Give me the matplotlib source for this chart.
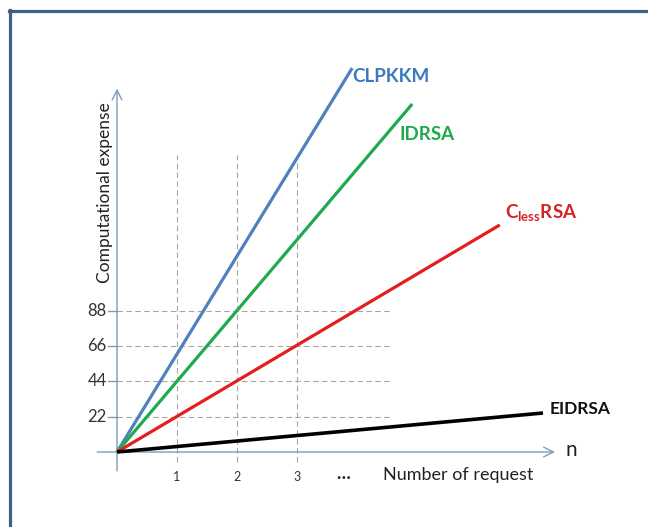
import matplotlib
matplotlib.use("Agg")
import matplotlib.pyplot as plt
from matplotlib.lines import Line2D

plt.rcParams['font.family'] = ['Lato', 'DejaVu Sans']

# ---- data ----
series_names = ["CLPKKM", "IDRSA", r"C$_{\mathregular{less}}$RSA", "EIDRSA"]
series_x = [[0, 3.92], [0, 4.92], [0, 6.38], [0, 7.10]]
series_y = [[0, 239.3], [0, 216.9], [0, 141.5], [0, 24.3]]
series_colors = ["#4f81bd", "#1faa4e", "#e41e1e", "#000000"]
label_colors = ["#3a78c0", "#1faa4e", "#d42424", "#111111"]
xticks = [1, 2, 3]
xtick_labels = ["1", "2", "3"]
yticks = [22, 44, 66, 88]
ytick_labels = ["22", "44", "66", "88"]
xlabel = "Number of request"
ylabel = "Computational expense"

W, H = 648, 527
fig = plt.figure(figsize=(W / 100, H / 100), dpi=100)
ax = fig.add_axes([0, 0, 1, 1])
# pixel geometry: origin at (117, 452); 60 px per x unit; 35.3 px per 22 y units
ox, oy, sx, sy = 117, 452, 60.0, 35.3 / 22
ax.set_xlim(-ox / sx, (W - ox) / sx)
ax.set_ylim(-(H - oy) / sy, oy / sy)
ax.axis("off")

axis_col = "#7f9cbc"
grid_col = "#a6a6a6"

# grid lines
for t in xticks:
    ax.plot([t, t], [-6.5, 185], color=grid_col, lw=0.8, ls=(0, (5, 3)), zorder=1)
for t in yticks:
    ax.plot([0, 4.55], [t, t], color=grid_col, lw=0.8, ls=(0, (5, 3)), zorder=1)
    ax.plot([-0.15, 0], [t, t], color=axis_col, lw=1.0, zorder=2)

# axes with arrows
ax.annotate("", xy=(7.3, 0), xytext=(-0.33, 0),
            arrowprops=dict(arrowstyle="->,head_length=0.7,head_width=0.35", color=axis_col, lw=1.0,
                            shrinkA=0, shrinkB=0), zorder=2)
ax.annotate("", xy=(0, 226.5), xytext=(0, -11.8),
            arrowprops=dict(arrowstyle="->,head_length=0.7,head_width=0.35", color=axis_col, lw=1.0,
                            shrinkA=0, shrinkB=0), zorder=2)

# series lines
for i, (xs, ys) in enumerate(zip(series_x, series_y)):
    ax.plot(xs, ys, color=series_colors[i], lw=2.6 if i == 3 else 2.3,
            solid_capstyle="butt", zorder=3)

# series labels near the line ends
offsets = [(0, -6), (-9, -22), (4, 8), (5, 3)]
sizes = [13.5, 13.5, 13.5, 12.5]
for i in range(4):
    ax.annotate(series_names[i], xy=(series_x[i][1], series_y[i][1]),
                xytext=offsets[i], textcoords="offset points",
                ha="left", va="center", fontsize=sizes[i], fontweight="bold",
                color=label_colors[i])

# tick labels
for t, s in zip(xticks, xtick_labels):
    ax.text(t, -15.5, s, ha="center", va="center", fontsize=9, color="#333333")
ax.text(3.77, -13.5, "\u2026", ha="center", va="center", fontsize=13,
        fontweight="bold", color="#222222")
for t, s in zip(yticks, ytick_labels):
    ax.text(-0.17, t, s, ha="right", va="center", fontsize=12, color="#333333")

ax.text(5.68, -14.3, xlabel, ha="center", va="center", fontsize=13, color="#222222")
ax.text(7.48, 1.5, "n", ha="left", va="center", fontsize=15, color="#222222")
ax.text(-0.2, 161.4, ylabel, ha="center", va="center", rotation=90, fontsize=12.5,
        color="#222222")

# frame border (left and top)
frame_col = "#3f5f8a"
fig.add_artist(Line2D([10 / W, 10 / W], [0, 1 - 10 / H], color=frame_col, lw=2.3,
                      transform=fig.transFigure))
fig.add_artist(Line2D([9 / W, 1], [1 - 11 / H, 1 - 11 / H], color=frame_col, lw=2.3,
                      transform=fig.transFigure))

fig.savefig("out.png", dpi=100)
